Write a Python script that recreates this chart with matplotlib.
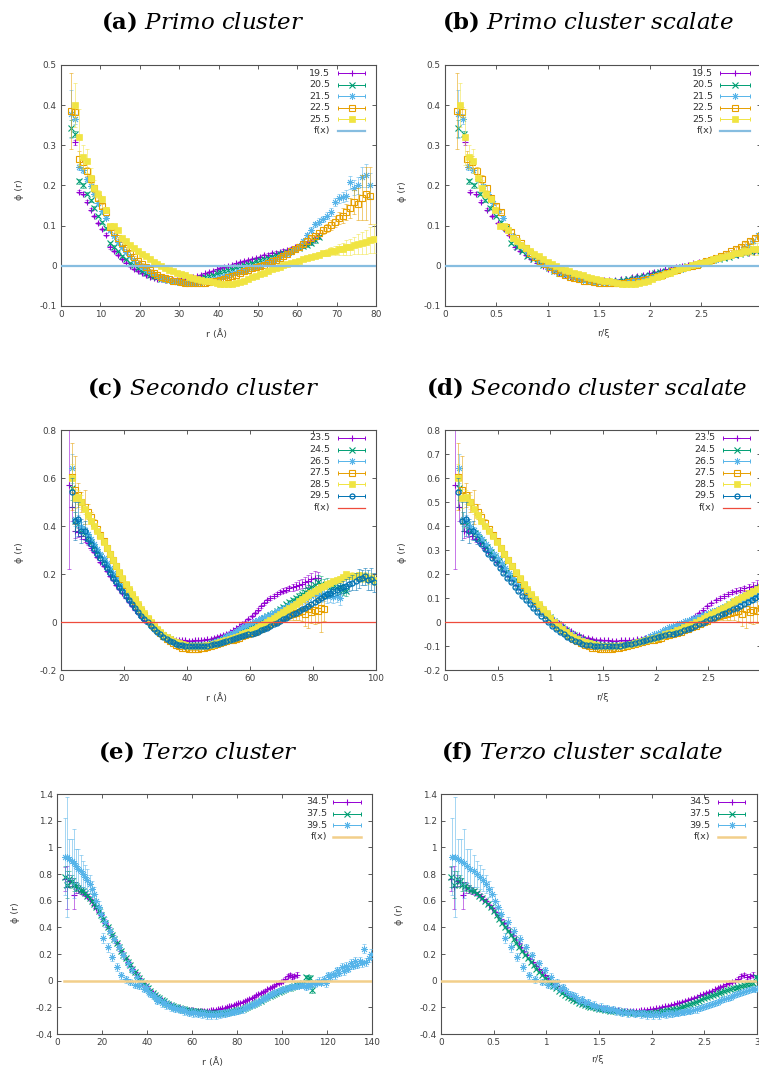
import numpy as np
import matplotlib.pyplot as plt
from matplotlib.ticker import FuncFormatter

W, H = 759, 1068

plt.rcParams['font.family'] = 'DejaVu Sans'
plt.rcParams['mathtext.fontset'] = 'custom'
plt.rcParams['mathtext.rm'] = 'DejaVu Serif'
plt.rcParams['mathtext.bf'] = 'DejaVu Serif:bold'
plt.rcParams['mathtext.it'] = 'DejaVu Serif:italic'

# ---------------- data (phi values and errors in units of 1e-3, 1 A bins) ----------------
# primo cluster
A_LABELS = ['19.5', '20.5', '21.5', '22.5', '25.5']
A_R0 = [3.5, 2.5, 2.5, 2.5, 3.5]
A_XI = [18.4, 19.3, 20.5, 21.0, 23.5]

A195_Y = [308, 185, 180, 160, 140, 124, 106, 91, 78, 46,
          37, 27, 17, 8, 0, -8, -13, -19, -23, -27,
          -30, -32, -34, -35, -36, -36, -36, -35, -34, -32,
          -29, -26, -23, -19, -15, -12, -9, -6, -3, 0,
          3, 6, 9, 12, 15, 18, 20, 23, 26, 28,
          31, 33, 35, 38, 40, 43, 46, 49, 52, 56,
          60, 66, 75]
A195_E = [6, 4, 3, 3, 3, 3, 3, 3, 3, 3,
          3, 3, 2, 2, 2, 2, 2, 2, 2, 2,
          2, 2, 2, 2, 2, 2, 2, 2, 2, 2,
          2, 2, 2, 2, 2, 2, 2, 2, 2, 2,
          2, 2, 2, 2, 2, 2, 2, 2, 3, 3,
          3, 3, 3, 3, 3, 3, 3, 4, 4, 4,
          5, 5, 6]

A205_Y = [342, 328, 210, 200, 180, 163, 145, 124, 108, 93,
          57, 48, 36, 25, 16, 8, 1, -6, -12, -17,
          -22, -26, -29, -32, -34, -36, -37, -38, -38, -38,
          -37, -36, -34, -31, -28, -25, -22, -19, -16, -13,
          -10, -7, -4, -1, 2, 5, 8, 11, 14, 17,
          20, 23, 26, 29, 32, 35, 38, 41, 45, 49,
          53, 58, 64, 72]
A205_E = [22, 8, 6, 5, 4, 4, 3, 3, 3, 3,
          3, 3, 2, 2, 2, 2, 2, 2, 2, 2,
          2, 2, 2, 2, 2, 2, 2, 2, 2, 2,
          2, 2, 2, 2, 2, 2, 2, 2, 2, 2,
          2, 2, 2, 2, 2, 2, 2, 2, 3, 3,
          3, 3, 3, 3, 3, 3, 3, 4, 4, 4,
          5, 5, 6, 6]

A215_Y = [378, 366, 246, 238, 216, 198, 178, 156, 137, 120,
          88, 75, 60, 47, 35, 24, 14, 5, -3, -10,
          -16, -21, -26, -30, -33, -36, -38, -40, -41, -42,
          -42, -42, -41, -40, -38, -36, -34, -31, -28, -25,
          -22, -19, -16, -13, -10, -7, -4, -1, 2, 6,
          10, 14, 18, 22, 26, 30, 35, 41, 50, 62,
          76, 90, 103, 110, 117, 125, 135, 158, 168, 172,
          175, 208, 195, 200, 222, 225, 200]
A215_E = [60, 12, 8, 6, 5, 5, 4, 4, 4, 3,
          3, 3, 3, 3, 3, 3, 2, 2, 2, 2,
          2, 2, 2, 2, 2, 2, 2, 2, 2, 2,
          2, 2, 2, 2, 2, 2, 2, 2, 2, 2,
          2, 2, 2, 2, 2, 2, 2, 3, 3, 3,
          3, 3, 3, 4, 4, 4, 4, 5, 5, 5,
          6, 6, 7, 8, 8, 9, 10, 10, 12, 12,
          14, 16, 18, 20, 25, 28, 30]

A225_Y = [385, 383, 265, 258, 235, 215, 193, 170, 150, 135,
          97, 85, 70, 56, 44, 33, 22, 12, 4, -4,
          -11, -17, -22, -27, -31, -34, -37, -39, -41, -42,
          -42, -43, -43, -42, -42, -41, -39, -37, -35, -32,
          -29, -26, -22, -18, -14, -10, -6, -3, 0, 3,
          7, 11, 15, 20, 25, 30, 36, 42, 48, 54,
          62, 69, 75, 82, 88, 95, 102, 110, 118, 125,
          135, 145, 160, 155, 170, 180, 175]
A225_E = [95, 12, 20, 15, 12, 10, 8, 6, 5, 4,
          4, 4, 3, 3, 3, 3, 3, 3, 2, 2,
          2, 2, 2, 2, 2, 2, 2, 2, 2, 2,
          2, 2, 2, 2, 2, 2, 2, 2, 2, 2,
          2, 2, 2, 2, 2, 2, 3, 3, 3, 3,
          3, 3, 3, 4, 4, 4, 4, 5, 5, 5,
          6, 6, 7, 8, 8, 10, 12, 14, 15, 18,
          20, 25, 30, 40, 55, 65, 70]

A255_Y = [400, 320, 270, 260, 218, 193, 180, 167, 140, 98,
          98, 88, 70, 62, 52, 45, 38, 30, 24, 16,
          10, 4, -1, -6, -10, -14, -18, -21, -24, -27,
          -30, -32, -35, -37, -39, -41, -43, -44, -45, -45,
          -44, -43, -40, -37, -33, -29, -25, -21, -17, -13,
          -9, -5, -2, 1, 4, 7, 10, 13, 16, 19,
          22, 25, 28, 31, 33, 36, 38, 41, 43, 46,
          48, 51, 54, 57, 60, 64, 68]
A255_E = [55, 70, 30, 30, 25, 20, 10, 8, 6, 5,
          5, 4, 4, 3, 3, 3, 3, 3, 2, 2,
          2, 2, 2, 2, 2, 2, 2, 2, 2, 2,
          2, 2, 2, 2, 2, 2, 2, 2, 2, 2,
          2, 2, 2, 2, 2, 2, 2, 2, 2, 2,
          2, 2, 3, 3, 3, 3, 3, 4, 4, 4,
          5, 5, 6, 7, 8, 10, 12, 14, 15, 18,
          20, 22, 25, 28, 30, 32, 35]

# secondo cluster
C_LABELS = ['23.5', '24.5', '26.5', '27.5', '28.5', '29.5']
C_R0 = [2.5, 3.5, 3.5, 3.5, 3.5, 3.5]
C_XI = [25.5, 26.5, 27.0, 27.5, 27.5, 28.0]

C235_Y = [570, 480, 380, 375, 360, 345, 330, 310, 292, 272,
          252, 232, 212, 193, 174, 155, 137, 119, 101, 84,
          67, 51, 36, 21, 7, -6, -18, -29, -39, -48,
          -55, -61, -66, -70, -73, -75, -77, -77, -78, -78,
          -77, -77, -76, -74, -72, -70, -67, -63, -59, -54,
          -48, -42, -35, -27, -18, -9, 0, 12, 25, 38,
          52, 65, 78, 90, 100, 110, 118, 125, 130, 135,
          140, 145, 150, 155, 160, 165, 170, 178, 182, 185]
C235_E = [350, 60, 30, 20, 15, 12, 10, 8, 6, 5,
          5, 4, 4, 4, 3, 3, 3, 3, 3, 3,
          3, 3, 3, 3, 3, 3, 3, 3, 3, 3,
          3, 3, 3, 3, 3, 3, 3, 3, 3, 3,
          3, 3, 3, 3, 3, 3, 3, 3, 3, 3,
          3, 3, 3, 3, 3, 3, 3, 4, 4, 4,
          5, 5, 6, 6, 7, 8, 8, 9, 10, 10,
          12, 14, 15, 18, 20, 22, 25, 28, 30, 25]

C245_Y = [560, 420, 410, 385, 370, 352, 333, 313, 293, 273,
          253, 233, 213, 193, 174, 155, 136, 118, 100, 83,
          66, 50, 34, 19, 5, -9, -22, -34, -45, -55,
          -64, -72, -78, -84, -88, -92, -94, -96, -97, -97,
          -97, -96, -94, -91, -88, -84, -80, -75, -70, -64,
          -58, -52, -46, -40, -33, -27, -20, -13, -6, 1,
          8, 15, 23, 31, 39, 47, 55, 64, 73, 82,
          91, 100, 109, 118, 127, 136, 145, 155, 165, 160,
          150, 155, 145, 150, 140, 145, 135, 130]
C245_E = [50, 40, 20, 15, 12, 10, 8, 6, 5, 5,
          4, 4, 4, 3, 3, 3, 3, 3, 3, 3,
          3, 3, 3, 3, 3, 3, 3, 3, 3, 3,
          3, 3, 3, 3, 3, 3, 3, 3, 3, 3,
          3, 3, 3, 3, 3, 3, 3, 3, 3, 3,
          3, 3, 3, 3, 3, 3, 3, 3, 3, 3,
          4, 4, 4, 5, 5, 5, 6, 6, 7, 8,
          9, 10, 12, 14, 16, 18, 20, 25, 30, 30,
          28, 30, 25, 28, 25, 25, 22, 20]

C265_Y = [640, 430, 425, 400, 385, 365, 345, 325, 305, 285,
          265, 245, 225, 205, 185, 166, 147, 128, 110, 92,
          75, 58, 42, 27, 12, -2, -16, -29, -41, -52,
          -62, -71, -78, -85, -90, -94, -97, -99, -100, -100,
          -100, -99, -97, -94, -90, -85, -79, -73, -66, -59,
          -52, -45, -38, -30, -22, -15, -9, -3, 3, 9,
          15, 21, 27, 33, 39, 45, 51, 57, 63, 69,
          75, 81, 87, 92, 97, 102, 107, 112, 116, 112,
          118, 108, 114, 104, 110, 100]
C265_E = [60, 30, 20, 15, 12, 10, 8, 6, 5, 5,
          4, 4, 4, 4, 3, 3, 3, 3, 3, 3,
          3, 3, 3, 3, 3, 3, 3, 3, 3, 3,
          3, 3, 3, 3, 3, 3, 3, 3, 3, 3,
          3, 3, 3, 3, 3, 3, 3, 3, 3, 3,
          3, 3, 3, 3, 3, 3, 3, 3, 3, 3,
          4, 4, 5, 5, 5, 6, 6, 7, 8, 9,
          10, 12, 14, 16, 18, 20, 22, 25, 28, 30,
          30, 28, 30, 25, 28, 30]

C275_Y = [605, 550, 530, 500, 480, 460, 437, 413, 388, 362,
          336, 310, 284, 258, 232, 206, 180, 155, 131, 108,
          86, 66, 47, 29, 12, -4, -19, -33, -46, -58,
          -69, -79, -88, -96, -102, -107, -110, -112, -113, -113,
          -112, -110, -107, -104, -101, -97, -93, -89, -85, -81,
          -77, -73, -69, -65, -60, -55, -50, -45, -40, -35,
          -29, -22, -15, -8, -1, 6, 13, 20, 25, 30,
          35, 38, 40, 45, 35, 55, 40, 50, 45, 60,
          55]
C275_E = [140, 140, 50, 40, 70, 30, 20, 15, 12, 10,
          8, 8, 6, 6, 5, 5, 5, 4, 4, 4,
          4, 4, 4, 4, 4, 4, 4, 4, 4, 4,
          4, 4, 4, 4, 4, 4, 4, 4, 4, 4,
          4, 4, 4, 4, 4, 4, 4, 4, 4, 4,
          4, 4, 4, 4, 4, 4, 4, 4, 4, 4,
          5, 6, 6, 7, 8, 10, 12, 15, 18, 20,
          25, 30, 30, 40, 50, 80, 45, 60, 50, 100,
          50]

C285_Y = [600, 515, 520, 500, 470, 445, 420, 400, 380, 358,
          335, 310, 285, 260, 235, 210, 185, 160, 138, 116,
          95, 75, 55, 36, 18, 1, -15, -29, -42, -53,
          -63, -71, -78, -84, -89, -93, -96, -98, -99, -100,
          -100, -99, -98, -96, -94, -91, -88, -84, -80, -76,
          -72, -67, -62, -57, -52, -46, -40, -34, -28, -21,
          -14, -7, 0, 8, 16, 24, 32, 41, 50, 59,
          68, 77, 86, 95, 104, 113, 122, 131, 138, 145,
          151, 157, 163, 169, 175, 181, 186, 198, 190, 193,
          190, 195, 185, 192, 180, 185, 175]
C285_E = [60, 40, 30, 30, 20, 15, 12, 10, 8, 6,
          5, 5, 4, 4, 4, 4, 4, 4, 4, 4,
          4, 4, 4, 4, 4, 4, 4, 4, 4, 4,
          4, 4, 4, 4, 4, 4, 4, 4, 4, 4,
          4, 4, 4, 4, 4, 4, 4, 4, 4, 4,
          4, 4, 4, 4, 4, 4, 4, 4, 4, 4,
          4, 4, 4, 4, 4, 4, 4, 4, 4, 4,
          4, 4, 4, 5, 5, 5, 5, 6, 6, 6,
          7, 7, 8, 8, 9, 10, 10, 12, 12, 14,
          15, 15, 18, 18, 20, 20, 22]

C295_Y = [540, 420, 430, 380, 380, 345, 325, 305, 285, 265,
          245, 225, 205, 185, 166, 147, 128, 110, 92, 75,
          58, 42, 27, 12, -2, -16, -29, -41, -52, -62,
          -71, -79, -85, -90, -94, -97, -99, -100, -101, -102,
          -102, -101, -100, -98, -96, -93, -90, -87, -84, -80,
          -76, -72, -68, -64, -60, -56, -52, -48, -44, -40,
          -35, -30, -24, -17, -10, -3, 4, 11, 18, 25,
          32, 39, 46, 53, 60, 68, 76, 84, 92, 100,
          108, 115, 122, 128, 134, 140, 146, 152, 158, 164,
          170, 180, 185, 190, 175, 180, 165]
C295_E = [60, 80, 70, 50, 40, 20, 10, 8, 6, 5,
          5, 4, 4, 4, 4, 4, 4, 4, 4, 4,
          4, 4, 4, 4, 4, 4, 4, 4, 4, 4,
          4, 4, 4, 4, 4, 4, 4, 4, 4, 4,
          4, 4, 4, 4, 4, 4, 4, 4, 4, 4,
          4, 4, 4, 4, 4, 4, 4, 4, 4, 4,
          4, 4, 4, 4, 4, 4, 4, 4, 4, 4,
          4, 5, 5, 5, 6, 6, 7, 8, 9, 10,
          12, 14, 16, 18, 20, 22, 25, 28, 30, 30,
          35, 40, 30, 35, 40, 45, 40]

# terzo cluster
E_LABELS = ['34.5', '37.5', '39.5']
E_R0 = [3.5, 3.5, 3.5]
E_XI = [36.0, 37.0, 34.0]

E345_Y = [760, 700, 750, 740, 640, 700, 690, 675, 665, 650,
          635, 615, 595, 570, 545, 518, 490, 462, 432, 402,
          372, 342, 312, 282, 252, 222, 193, 165, 138, 112,
          87, 63, 40, 18, -3, -23, -42, -60, -77, -93,
          -108, -122, -135, -147, -158, -168, -177, -185, -192, -198,
          -203, -208, -212, -215, -218, -220, -222, -223, -224, -225,
          -226, -226, -226, -225, -224, -222, -220, -217, -214, -210,
          -206, -202, -197, -192, -187, -182, -176, -170, -164, -157,
          -150, -143, -135, -127, -119, -110, -101, -92, -83, -74,
          -65, -55, -46, -37, -28, -19, -10, 0, 15, 35,
          40, 30, 35, 45]
E345_E = [90, 160, 40, 30, 100, 40, 30, 25, 20, 15,
          12, 10, 8, 6, 5, 5, 4, 4, 4, 4,
          4, 4, 4, 4, 4, 4, 4, 4, 4, 4,
          4, 4, 4, 4, 4, 4, 4, 4, 4, 4,
          4, 4, 4, 4, 4, 4, 4, 4, 4, 4,
          4, 4, 4, 4, 4, 4, 4, 4, 4, 4,
          4, 4, 4, 4, 4, 4, 4, 4, 4, 4,
          4, 4, 4, 4, 4, 4, 4, 4, 4, 4,
          4, 4, 4, 4, 4, 4, 4, 4, 4, 4,
          4, 4, 4, 5, 5, 5, 6, 8, 12, 15,
          15, 18, 15, 20]

E375_Y = [780, 720, 760, 750, 720, 710, 695, 682, 670, 655,
          638, 620, 600, 576, 550, 523, 495, 466, 436, 405,
          375, 345, 315, 285, 255, 225, 196, 168, 141, 115,
          90, 66, 43, 21, 0, -20, -39, -57, -74, -90,
          -105, -119, -132, -144, -155, -165, -174, -182, -189, -195,
          -201, -206, -210, -214, -218, -221, -224, -227, -229, -231,
          -233, -235, -237, -239, -241, -242, -243, -244, -244, -243,
          -242, -240, -238, -235, -231, -227, -223, -219, -214, -209,
          -203, -197, -190, -183, -175, -167, -159, -150, -141, -132,
          -123, -115, -107, -99, -91, -84, -77, -70, -64, -58,
          -52, -46, -40, -34, -28, -22, -18, 25, 10, 20,
          -70]
E375_E = [80, 100, 60, 40, 50, 30, 25, 20, 15, 12,
          10, 8, 6, 5, 5, 4, 4, 4, 4, 4,
          4, 4, 4, 4, 4, 4, 4, 4, 4, 4,
          4, 4, 4, 4, 4, 4, 4, 4, 4, 4,
          4, 4, 4, 4, 4, 4, 4, 4, 4, 4,
          4, 4, 4, 4, 4, 4, 4, 4, 4, 4,
          4, 4, 4, 4, 4, 4, 4, 4, 4, 4,
          4, 4, 4, 4, 4, 4, 4, 4, 4, 4,
          4, 4, 4, 4, 4, 4, 4, 4, 4, 4,
          4, 4, 5, 5, 5, 6, 6, 7, 8, 8,
          9, 10, 10, 12, 12, 14, 15, 20, 25, 20,
          25]

E395_Y = [930, 925, 910, 895, 880, 860, 840, 820, 800, 780,
          755, 725, 690, 650, 600, 550, 500, 320, 440, 250,
          375, 180, 310, 100, 250, 40, 190, 10, 130, -10,
          80, -30, 30, -40, -10, -60, -50, -80, -100, -110,
          -120, -150, -140, -170, -160, -185, -180, -200, -195, -210,
          -205, -220, -215, -230, -225, -240, -232, -245, -238, -250,
          -242, -252, -245, -255, -248, -258, -250, -255, -248, -252,
          -245, -248, -240, -242, -235, -235, -228, -226, -220, -216,
          -205, -198, -190, -182, -174, -166, -157, -148, -139, -130,
          -120, -110, -100, -92, -85, -78, -72, -66, -60, -55,
          -50, -46, -42, -40, -38, -36, -34, -45, -30, -40,
          -20, -25, -10, 0, -15, 10, -20, 40, 30, 50,
          40, 80, 60, 100, 70, 110, 90, 130, 110, 150,
          120, 150, 130, 240, 140, 170, 200]
E395_E = [290, 450, 150, 170, 260, 130, 150, 120, 100, 90,
          80, 70, 60, 55, 50, 45, 40, 40, 35, 35,
          30, 30, 30, 30, 28, 28, 25, 25, 25, 25,
          25, 25, 25, 25, 25, 25, 25, 25, 25, 25,
          25, 25, 25, 25, 25, 25, 25, 25, 25, 25,
          25, 25, 25, 25, 25, 25, 25, 25, 25, 25,
          25, 30, 25, 30, 25, 30, 25, 30, 25, 30,
          25, 25, 25, 25, 25, 25, 25, 25, 25, 25,
          22, 22, 22, 22, 22, 22, 22, 22, 22, 22,
          22, 22, 22, 22, 22, 22, 22, 22, 22, 22,
          20, 20, 20, 20, 20, 20, 20, 25, 20, 25,
          20, 25, 20, 25, 20, 25, 25, 25, 25, 25,
          25, 25, 25, 30, 25, 30, 25, 30, 25, 30,
          25, 30, 25, 35, 30, 30, 35]

A_SERIES = list(zip(A_LABELS, A_R0, [A195_Y, A205_Y, A215_Y, A225_Y, A255_Y],
                    [A195_E, A205_E, A215_E, A225_E, A255_E], A_XI))
C_SERIES = list(zip(C_LABELS, C_R0, [C235_Y, C245_Y, C265_Y, C275_Y, C285_Y, C295_Y],
                    [C235_E, C245_E, C265_E, C275_E, C285_E, C295_E], C_XI))
E_SERIES = list(zip(E_LABELS, E_R0, [E345_Y, E375_Y, E395_Y],
                    [E345_E, E375_E, E395_E], E_XI))

# ---------------- style (gnuplot default look) ----------------
COLORS = ['#9400d3', '#009e73', '#56b4e9', '#e69f00', '#f0e442', '#0072b2']
STYLES = [dict(marker='+', ms=5.0, mew=0.8),
          dict(marker='x', ms=4.0, mew=0.8),
          dict(marker=(8, 2, 0), ms=5.0, mew=0.6),
          dict(marker='s', ms=4.2, mew=0.8, mfc='none'),
          dict(marker='s', ms=4.0, mew=0.5),
          dict(marker='o', ms=3.6, mew=0.9, mfc='none')]


def fx(px):
    return px / W


def fy(py):
    return 1 - py / H


def fmt(v, p):
    s = '%g' % round(v, 3)
    return '0' if s == '-0' else s


def draw_panel(rect, series, scaled, xlim, ylim, xticks, yticks, fline, frange):
    l, t, r, b = rect
    ax = fig.add_axes([fx(l), fy(b), (r - l) / W, (b - t) / H])
    for i, (lab, r0, yv, ev, xi) in enumerate(series):
        y = np.array(yv) / 1000.0
        e = np.array(ev) / 1000.0
        rr = r0 + np.arange(len(y))
        x = rr / xi if scaled else rr
        col = COLORS[i]
        ax.errorbar(x, y, yerr=e, fmt='none', ecolor=col, elinewidth=0.5,
                    capsize=1.4, capthick=0.5, alpha=0.75, zorder=2 + i)
        ax.plot(x, y, ls='none', color=col, mec=col, zorder=2.5 + i, **STYLES[i])
    ax.plot(frange, [0, 0], color=fline[0], lw=fline[1], zorder=20)
    ax.set_xlim(*xlim)
    ax.set_ylim(*ylim)
    ax.set_xticks(xticks)
    ax.set_yticks(yticks)
    ax.xaxis.set_major_formatter(FuncFormatter(fmt))
    ax.yaxis.set_major_formatter(FuncFormatter(fmt))
    ax.tick_params(direction='in', length=2.8, width=0.6, color='#404040',
                   labelsize=6.4, labelcolor='#404040', pad=3,
                   top=True, right=True)
    for s in ax.spines.values():
        s.set_linewidth(0.8)
        s.set_color('#505050')
    return ax


def draw_key(ax, labels, fline, xt, x1, x2, y0, step=11.6):
    n = len(labels)
    for i in range(n + 1):
        yy = fy(y0 + i * step)
        lab = labels[i] if i < n else 'f(x)'
        fig.text(fx(xt), yy, lab, ha='right', va='center', fontsize=6.8, color='#333333')
        if i < n:
            col = COLORS[i]
            ax.plot([fx(x1), fx(x2)], [yy, yy], color=col, lw=0.7,
                    transform=fig.transFigure, clip_on=False)
            ax.plot([fx(x1), fx(x2)], [yy, yy], ls='none', marker='|', ms=3,
                    mew=0.7, color=col, transform=fig.transFigure, clip_on=False)
            ax.plot([fx((x1 + x2) / 2)], [yy], ls='none', color=col, mec=col,
                    transform=fig.transFigure, clip_on=False, **STYLES[i])
        else:
            ax.plot([fx(x1), fx(x2)], [yy, yy], color=fline[0], lw=fline[1],
                    transform=fig.transFigure, clip_on=False)


fig = plt.figure(figsize=(W / 100, H / 100), dpi=100)

F_A = ('#86bde0', 1.6)
F_C = ('#ee4b3c', 0.9)
F_E = ('#f2cf8a', 1.8)

yt_a = [-0.1, 0, 0.1, 0.2, 0.3, 0.4, 0.5]
yt_c = [-0.2, 0, 0.2, 0.4, 0.6, 0.8]
yt_d = [-0.2, -0.1, 0, 0.1, 0.2, 0.3, 0.4, 0.5, 0.6, 0.7, 0.8]
yt_e = [-0.4, -0.2, 0, 0.2, 0.4, 0.6, 0.8, 1, 1.2, 1.4]
xt_s = [0, 0.5, 1, 1.5, 2, 2.5]

ax_a = draw_panel((61, 65, 376, 306), A_SERIES, False, (0, 80), (-0.1, 0.5),
                  range(0, 81, 10), yt_a, F_A, [0, 80])
ax_b = draw_panel((445, 65, 761, 306), A_SERIES, True, (0, 3.08), (-0.1, 0.5),
                  xt_s, yt_a, F_A, [0, 3.08])
ax_c = draw_panel((61, 430, 376, 670), C_SERIES, False, (0, 100), (-0.2, 0.8),
                  range(0, 101, 20), yt_c, F_C, [0, 100])
ax_d = draw_panel((445, 430, 761, 670), C_SERIES, True, (0, 3.0), (-0.2, 0.8),
                  xt_s, yt_d, F_C, [0, 3.0])
ax_e = draw_panel((57, 794, 372, 1034), E_SERIES, False, (0, 140), (-0.4, 1.4),
                  range(0, 141, 20), yt_e, F_E, [3, 140])
ax_f = draw_panel((441, 794, 757, 1034), E_SERIES, True, (0, 3), (-0.4, 1.4),
                  xt_s + [3], yt_e, F_E, [0, 3])

draw_key(ax_a, A_LABELS, F_A, 330, 338, 365, 73)
draw_key(ax_b, A_LABELS, F_A, 713, 720, 750, 73)
draw_key(ax_c, C_LABELS, F_C, 330, 338, 365, 438)
draw_key(ax_d, C_LABELS, F_C, 715, 723, 750, 438)
draw_key(ax_e, E_LABELS, F_E, 327, 333, 361, 802)
draw_key(ax_f, E_LABELS, F_E, 710, 718, 745, 802)

# titles
titles = [(203, 22, '(a)', 'Primo\\ cluster'),
          (588, 22, '(b)', 'Primo\\ cluster\\ scalate'),
          (203, 387, '(c)', 'Secondo\\ cluster'),
          (587, 387, '(d)', 'Secondo\\ cluster\\ scalate'),
          (198, 752, '(e)', 'Terzo\\ cluster'),
          (582, 752, '(f)', 'Terzo\\ cluster\\ scalate')]
for cx, cy, tag, txt in titles:
    fig.text(fx(cx), fy(cy), r'$\mathbf{%s}\ \mathit{%s}$' % (tag, txt),
             ha='center', va='center', fontsize=16.5, color='black')

# axis labels
for x, y, s in [(217, 334, 'r (Å)'), (603, 334, 'r/ξ'),
                (217, 698, 'r (Å)'), (602, 697, 'r/ξ'),
                (213, 1062, 'r (Å)'), (597, 1060, 'r/ξ')]:
    fig.text(fx(x), fy(y), s, ha='center', va='center', fontsize=6.8, color='#404040')
for x, y in [(20, 190), (402, 192), (20, 553), (402, 553), (15, 913), (400, 915)]:
    fig.text(fx(x), fy(y), 'ϕ (r)', ha='center', va='center', rotation=90,
             fontsize=6.8, color='#404040')

fig.savefig('out.png', dpi=100)
